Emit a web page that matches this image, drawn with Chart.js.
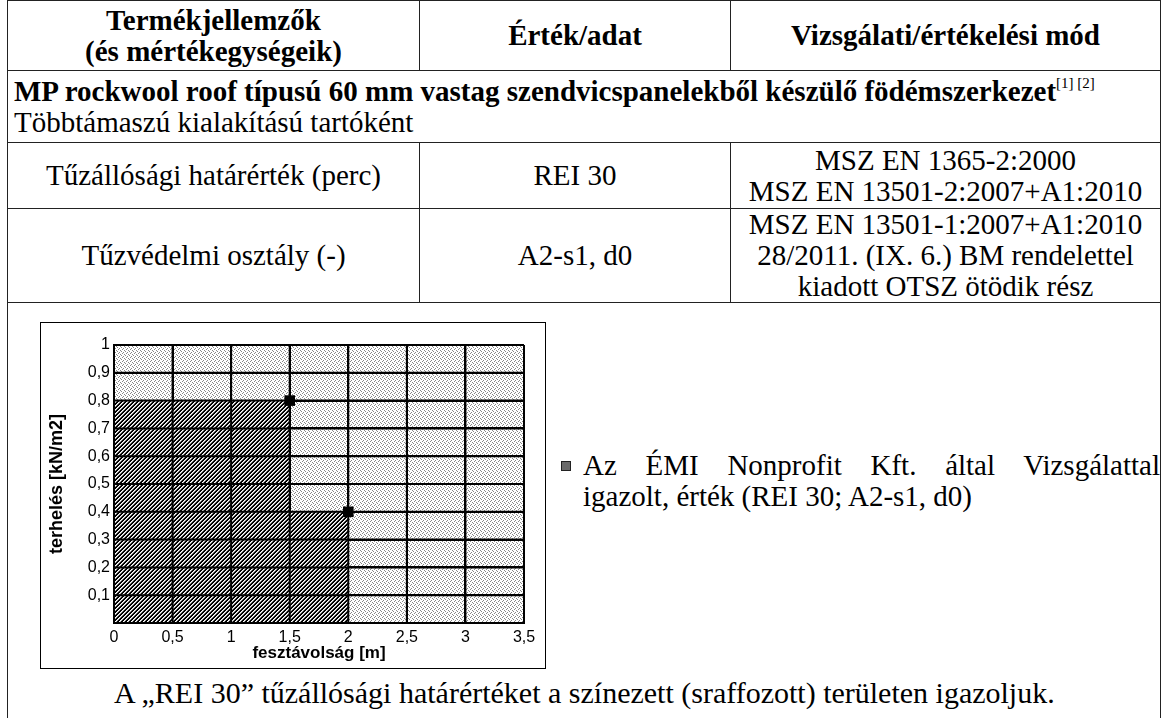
<!DOCTYPE html>
<html>
<head>
<meta charset="utf-8">
<script src="https://cdn.jsdelivr.net/npm/chart.js@4.4.1/dist/chart.umd.min.js"></script>
<style>
  body { margin: 0; width: 1166px; height: 718px; background: #fff; overflow: hidden; position: relative;
         font-family: "Liberation Serif", "Times New Roman", serif; color: #000; }
  table { position: absolute; left: 7px; top: 0; width: 1154px; border-collapse: collapse; font-size: 29px; line-height: 31px; table-layout: fixed; }
  td, th { border: 1.5px solid #222; padding: 0; text-align: center; vertical-align: middle; }
  th { font-weight: bold; }
  td.left { text-align: left; padding-left: 6px; }
  sup { font-size: 15px; font-weight: normal; vertical-align: 13px; line-height: 0; }
  #chartBox { position: absolute; left: 40px; top: 322px; width: 504px; height: 345px; border: 1px solid #000; background: #fff; }
  #legend { position: absolute; left: 561px; top: 450px; width: 599px; font-size: 29px; line-height: 31px; }
  #legend .mk { position: absolute; left: 0; top: 11px; width: 10px; height: 10px; background: #6a6a6a; border: 1px solid #222; box-sizing: border-box; }
  #legend .l1 { margin-left: 22px; text-align: justify; text-align-last: justify; white-space: nowrap; }
  #legend .l2 { margin-left: 22px; }
  #note { position: absolute; left: 114px; top: 677px; font-size: 30px; line-height: 31px; white-space: nowrap; }
</style>
</head>
<body>

<table>
  <colgroup><col style="width:412px"><col style="width:311px"><col></colgroup>
  <tr style="height:70px">
    <th>Termékjellemzők<br>(és mértékegységeik)</th>
    <th>Érték/adat</th>
    <th>Vizsgálati/értékelési mód</th>
  </tr>
  <tr style="height:72px">
    <td colspan="3" class="left"><b>MP rockwool roof típusú 60 mm vastag szendvicspanelekből készülő födémszerkezet</b><sup>[1] [2]</sup><br>Többtámaszú kialakítású tartóként</td>
  </tr>
  <tr style="height:66px">
    <td>Tűzállósági határérték (perc)</td>
    <td>REI 30</td>
    <td>MSZ EN 1365-2:2000<br>MSZ EN 13501-2:2007+A1:2010</td>
  </tr>
  <tr style="height:94px">
    <td>Tűzvédelmi osztály (-)</td>
    <td>A2-s1, d0</td>
    <td>MSZ EN 13501-1:2007+A1:2010<br>28/2011. (IX. 6.) BM rendelettel<br>kiadott OTSZ ötödik rész</td>
  </tr>
  <tr style="height:440px">
    <td colspan="3"></td>
  </tr>
</table>

<div id="chartBox"><canvas id="c" width="504" height="345"></canvas></div>

<div id="legend">
  <span class="mk"></span>
  <div class="l1">Az ÉMI Nonprofit Kft. által Vizsgálattal</div>
  <div class="l2">igazolt, érték (REI 30; A2-s1, d0)</div>
</div>

<div id="note">A „REI 30” tűzállósági határértéket a színezett (sraffozott) területen igazoljuk.</div>

<script>
// ── Data ──────────────────────────────────────────────────────
const spanTested = [1.5, 2];        // fesztávolság [m]
const loadTested = [0.8, 0.4];      // terhelés [kN/m2]
const areaSpan = [0, 1.5, 2];       // hatched region outline (stepped)
const areaLoad = [0.8, 0.4, 0];
const xTickLabels = ['0', '0,5', '1', '1,5', '2', '2,5', '3', '3,5'];
const yTickLabels = ['', '0,1', '0,2', '0,3', '0,4', '0,5', '0,6', '0,7', '0,8', '0,9', '1'];

// ── Patterns ──────────────────────────────────────────────────
function makeTile(size, painter) {
  const t = document.createElement('canvas');
  t.width = t.height = size;
  painter(t.getContext('2d'));
  return document.getElementById('c').getContext('2d').createPattern(t, 'repeat');
}
const stipple = makeTile(4, g => {
  g.fillStyle = '#fff'; g.fillRect(0, 0, 4, 4);
  g.fillStyle = '#888';
  [[0, 0], [2, 1], [1, 2], [3, 3]].forEach(([x, y]) => g.fillRect(x, y, 1, 1));
});
const hatch = makeTile(4, g => {
  g.fillStyle = '#000'; g.fillRect(0, 0, 4, 4);
  for (let x = 0; x < 4; x++) for (let y = 0; y < 4; y++) {
    const k = (x + y) % 4;
    if (k === 0) { g.fillStyle = '#fff'; g.fillRect(x, y, 1, 1); }
    if (k === 1) { g.fillStyle = '#b0b0b0'; g.fillRect(x, y, 1, 1); }
  }
});

// plot background + grid redrawn over the hatch
const plotDecor = {
  id: 'plotDecor',
  beforeDraw(chart) {
    const { ctx, chartArea: a } = chart;
    ctx.save(); ctx.fillStyle = stipple; ctx.fillRect(a.left, a.top, a.right - a.left, a.bottom - a.top); ctx.restore();
  },
  afterDatasetsDraw(chart) {
    const { ctx, chartArea: a, scales: { x, y } } = chart;
    ctx.save(); ctx.strokeStyle = '#000'; ctx.lineWidth = 2;
    x.ticks.forEach(t => { const px = x.getPixelForValue(t.value); ctx.beginPath(); ctx.moveTo(px, a.top); ctx.lineTo(px, a.bottom); ctx.stroke(); });
    y.ticks.forEach(t => { const py = y.getPixelForValue(t.value); ctx.beginPath(); ctx.moveTo(a.left, py); ctx.lineTo(a.right, py); ctx.stroke(); });
    ctx.restore();
  }
};

const axisFont = { family: 'Liberation Sans, Arial, sans-serif', size: 16 };
const titleFont = { family: 'Liberation Sans, Arial, sans-serif', size: 17, weight: 'bold' };

new Chart(document.getElementById('c'), {
  type: 'scatter',
  data: {
    datasets: [
      {
        data: spanTested.map((s, i) => ({ x: s, y: loadTested[i] })),
        pointStyle: 'rect', pointRadius: 7.5, backgroundColor: '#000', borderColor: '#000', borderWidth: 0, order: 0
      },
      {
        type: 'line',
        data: areaSpan.map((s, i) => ({ x: s, y: areaLoad[i] })),
        stepped: 'before', fill: 'origin', backgroundColor: hatch, borderWidth: 0, pointRadius: 0, order: 1
      }
    ]
  },
  options: {
    responsive: false, animation: false,
    layout: { padding: { left: 0, right: 21, top: 22, bottom: 0 } },
    plugins: { legend: { display: false }, tooltip: { enabled: false } },
    scales: {
      x: {
        type: 'linear', min: 0, max: 3.5,
        afterFit(s) { s.height = 45; },
        ticks: { stepSize: 0.5, color: '#000', font: axisFont, padding: 5, maxRotation: 0,
                 callback: (v, i) => xTickLabels[i] },
        grid: { color: '#000', lineWidth: 2, drawTicks: false },
        border: { color: '#000', width: 2 },
        title: { display: true, text: 'fesztávolság [m]', color: '#000', font: titleFont, padding: { top: 4, bottom: 4 } }
      },
      y: {
        type: 'linear', min: 0, max: 1,
        afterFit(s) { s.width = 73; },
        ticks: { stepSize: 0.1, color: '#000', font: axisFont, padding: 4,
                 callback: (v, i) => yTickLabels[i] },
        grid: { color: '#000', lineWidth: 2, drawTicks: false },
        border: { color: '#000', width: 2 },
        title: { display: true, text: 'terhelés [kN/m2]', color: '#000', font: { ...titleFont, size: 18 }, padding: { top: 5, bottom: 0 } }
      }
    }
  },
  plugins: [plotDecor]
});
</script>
</body>
</html>
